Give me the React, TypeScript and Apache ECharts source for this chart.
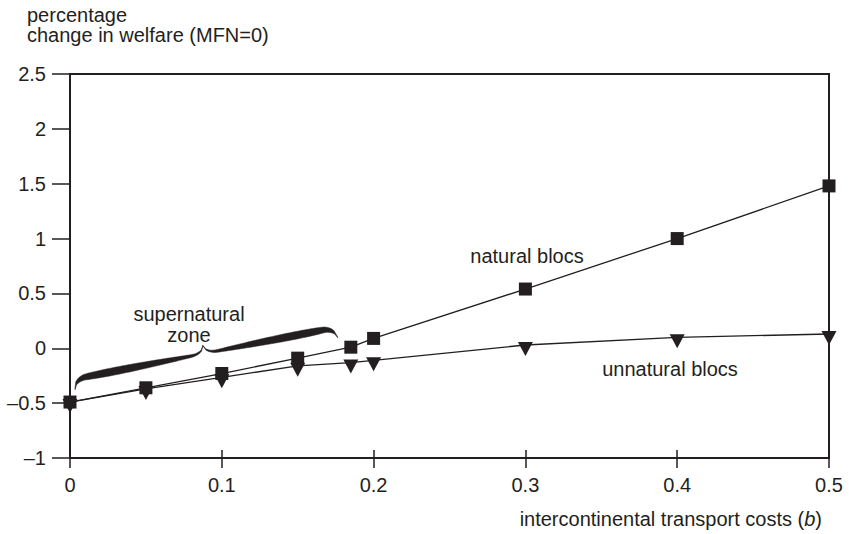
import React, { useEffect, useRef } from "react";
import * as echarts from "echarts";

const xTicks = [0, 0.1, 0.2, 0.3, 0.4, 0.5];
const naturalX = [0, 0.05, 0.1, 0.15, 0.185, 0.2, 0.3, 0.4, 0.5];
const naturalY = [-0.49, -0.36, -0.23, -0.09, 0.01, 0.09, 0.54, 1.0, 1.48];
const unnaturalX = [0, 0.05, 0.1, 0.15, 0.185, 0.2, 0.3, 0.4, 0.5];
const unnaturalY = [-0.49, -0.37, -0.265, -0.16, -0.13, -0.11, 0.03, 0.1, 0.13];
// brace spanning the supernatural zone: [x0, y0, x1, y1]
const braceSpan = [[0.0033, -0.373, 0.1763, 0.1]];

const INK = "#231f20";
const FONT = "'Liberation Sans', Arial, Helvetica, sans-serif";

function braceRender(params: any, api: any) {
  const p0 = api.coord([api.value(0), api.value(1)]);
  const p1 = api.coord([api.value(2), api.value(3)]);
  const dx = p1[0] - p0[0];
  const dy = p1[1] - p0[1];
  const L = Math.sqrt(dx * dx + dy * dy);
  const ux = dx / L, uy = dy / L;
  const nx = uy, ny = -ux; // "up" normal on screen
  const half = L / 2;
  const h = 10, tip = 8, T = 7.5, a = 0.1, b = 0.1;
  const N = 60;
  const top: number[][] = [];
  const bot: number[][] = [];
  const center = (s: number) => {
    let v: number;
    if (s < a) {
      const q = 1 - s / a;
      v = h * Math.sqrt(Math.max(0, 1 - q * q));
    } else v = h;
    if (s > 1 - b) {
      const q = (s - (1 - b)) / b;
      v += tip * (1 - Math.sqrt(Math.max(0, 1 - q * q)));
    }
    return v;
  };
  const thick = (s: number) => 1 + (T - 1) * Math.pow(Math.sin(Math.PI * Math.pow(s, 0.6)), 0.8);
  const pts: { u: number; v: number; t: number }[] = [];
  for (let i = 0; i <= N; i++) {
    const s = i / N;
    pts.push({ u: s * half, v: center(s), t: thick(s) });
  }
  for (let i = N - 1; i >= 0; i--) {
    const s = i / N;
    pts.push({ u: L - s * half, v: center(s), t: thick(s) });
  }
  const toXY = (u: number, v: number) => [p0[0] + u * ux + v * nx, p0[1] + u * uy + v * ny];
  for (const p of pts) {
    top.push(toXY(p.u, p.v + p.t / 2));
    bot.push(toXY(p.u, p.v - p.t / 2));
  }
  const points = top.concat(bot.reverse());
  return {
    type: "polygon",
    shape: { points },
    style: { fill: INK, stroke: INK, lineWidth: 0.5 },
  };
}

export default function App() {
  const ref = useRef<HTMLDivElement>(null);
  useEffect(() => {
    if (!ref.current) return;
    const chart = echarts.init(ref.current, null, { renderer: "svg" });
    const yFmt = (v: number) => (v < 0 ? "\u2013" + Math.abs(v) : String(v));
    chart.setOption({
      animation: false,
      backgroundColor: "#ffffff",
      textStyle: { fontFamily: FONT, color: INK },
      grid: {
        left: 70,
        right: 20,
        top: 74,
        bottom: 76,
        show: true,
        borderColor: INK,
        borderWidth: 2,
        containLabel: false,
      },
      xAxis: [
        {
          type: "value",
          min: 0,
          max: 0.5,
          interval: 0.1,
          position: "bottom",
          axisLine: { show: true, onZero: false, lineStyle: { color: INK, width: 2 } },
          axisTick: { show: true, inside: false, length: 10, lineStyle: { color: INK, width: 1.5 } },
          axisLabel: {
            show: true,
            margin: 17,
            fontSize: 20,
            color: INK,
            fontFamily: FONT,
            formatter: (v: number) => (xTicks.includes(v) ? String(v) : ""),
          },
          splitLine: { show: false },
        },
        {
          type: "value",
          min: 0,
          max: 0.5,
          interval: 0.1,
          position: "bottom",
          axisLine: { show: false, onZero: false },
          axisTick: { show: true, inside: true, length: 8, lineStyle: { color: INK, width: 1.5 } },
          axisLabel: { show: false },
          splitLine: { show: false },
        },
      ],
      yAxis: {
        type: "value",
        min: -1,
        max: 2.5,
        interval: 0.5,
        axisLine: { show: true, onZero: false, lineStyle: { color: INK, width: 2 } },
        axisTick: { show: true, inside: false, length: 18, lineStyle: { color: INK, width: 1.5 } },
        axisLabel: { margin: 24, fontSize: 20, color: INK, fontFamily: FONT, formatter: yFmt },
        splitLine: { show: false },
      },
      series: [
        {
          type: "custom",
          name: "brace",
          renderItem: braceRender,
          data: braceSpan,
          encode: { x: [0, 2], y: [1, 3] },
          clip: false,
          silent: true,
          z: 1,
        },
        {
          type: "line",
          name: "unnatural blocs",
          data: unnaturalX.map((x, i) => [x, unnaturalY[i]]),
          symbol: "triangle",
          symbolRotate: 180,
          symbolSize: [15, 14],
          symbolOffset: [0, 4],
          showAllSymbol: true,
          lineStyle: { color: INK, width: 1.3 },
          itemStyle: { color: INK, borderWidth: 0 },
          z: 2,
        },
        {
          type: "line",
          name: "natural blocs",
          data: naturalX.map((x, i) => [x, naturalY[i]]),
          symbol: "rect",
          symbolSize: 13,
          showAllSymbol: true,
          lineStyle: { color: INK, width: 1.3 },
          itemStyle: { color: INK, borderWidth: 0 },
          z: 3,
        },
      ],
      graphic: [
        { type: "text", left: 27, top: 5, style: { text: "percentage", font: `20px ${FONT}`, fill: INK } },
        { type: "text", left: 27, top: 25, style: { text: "change in welfare (MFN=0)", font: `20px ${FONT}`, fill: INK } },
        {
          type: "text",
          x: 527,
          y: 256,
          style: { text: "natural blocs", font: `20px ${FONT}`, fill: INK, align: "center", verticalAlign: "middle" },
        },
        {
          type: "text",
          x: 670,
          y: 369,
          style: { text: "unnatural blocs", font: `20px ${FONT}`, fill: INK, align: "center", verticalAlign: "middle" },
        },
        {
          type: "text",
          x: 189,
          y: 314,
          style: { text: "supernatural", font: `20px ${FONT}`, fill: INK, align: "center", verticalAlign: "middle" },
        },
        {
          type: "text",
          x: 189,
          y: 335,
          style: { text: "zone", font: `20px ${FONT}`, fill: INK, align: "center", verticalAlign: "middle" },
        },
        {
          type: "text",
          x: 822,
          y: 519,
          style: {
            text: "{a|intercontinental transport costs (}{b|b}{a|)}",
            align: "right",
            verticalAlign: "middle",
            fill: INK,
            rich: {
              a: { fontSize: 20, fontFamily: FONT, color: INK },
              b: { fontSize: 20, fontFamily: FONT, fontStyle: "italic", color: INK },
            },
          },
        },
      ],
    });
    return () => chart.dispose();
  }, []);
  return (
    <div
      ref={ref}
      style={{ position: "absolute", left: 0, top: 0, width: 849, height: 534, background: "#fff" }}
    />
  );
}
